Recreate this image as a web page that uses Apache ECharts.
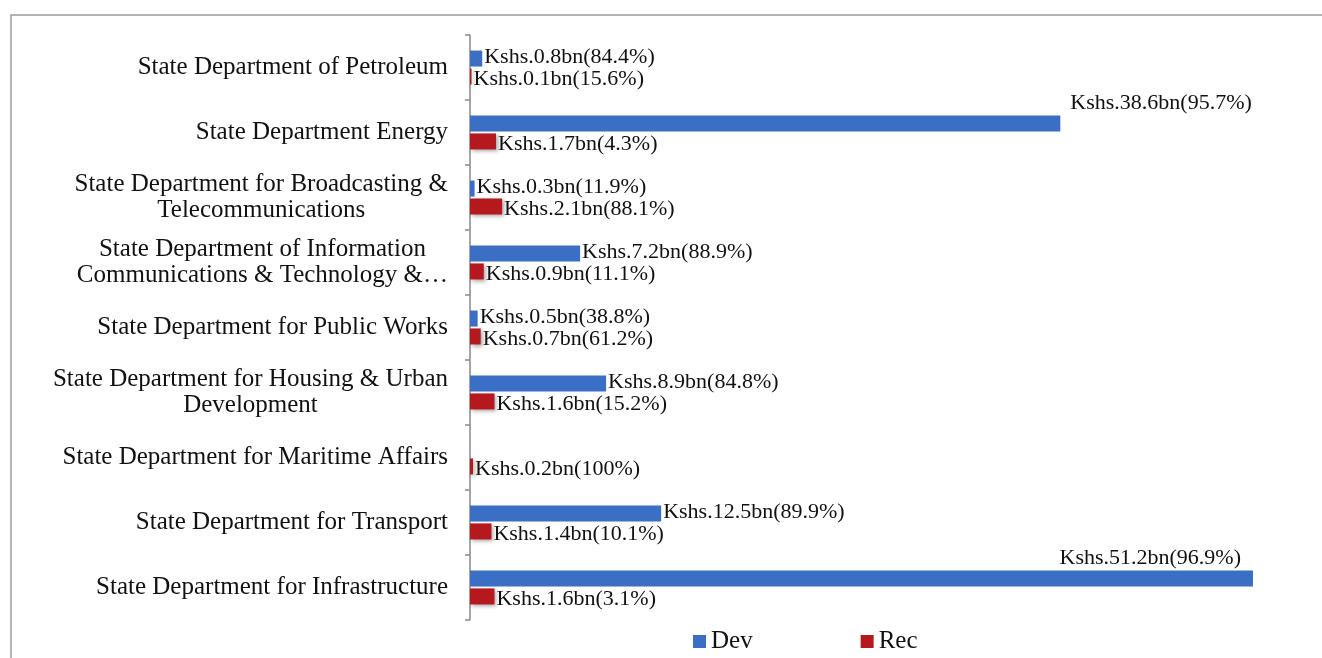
<!DOCTYPE html>
<html><head><meta charset="utf-8">
<script src="https://cdn.jsdelivr.net/npm/echarts@6/dist/echarts.min.js"></script>
<style>html,body{margin:0;padding:0;background:#fff}#c{width:1322px;height:658px}</style>
</head><body><div id="c"></div>
<script>
// Categories listed bottom to top (category axis starts at the bottom)
const categories = [
  'State Department for Infrastructure',
  'State Department for Transport',
  'State Department for Maritime Affairs',
  'State Department for Housing & Urban\nDevelopment',
  'State Department for Public Works',
  'State Department of Information\nCommunications & Technology &…',
  'State Department for Broadcasting &\nTelecommunications',
  'State Department Energy',
  'State Department of Petroleum'
];
const devValues = [51.2, 12.5, null, 8.9, 0.5, 7.2, 0.3, 38.6, 0.8];
const devShares = ['96.9%', '89.9%', '', '84.8%', '38.8%', '88.9%', '11.9%', '95.7%', '84.4%'];
const recValues = [1.6, 1.4, 0.2, 1.6, 0.7, 0.9, 2.1, 1.7, 0.1];
const recShares = ['3.1%', '10.1%', '100%', '15.2%', '61.2%', '11.1%', '88.1%', '4.3%', '15.6%'];
const legendNames = ['Dev', 'Rec'];

const SERIF = '"Liberation Serif", "DejaVu Serif", serif';
const BLUE = '#3b6fc6';
const RED = '#b5191e';

const maxDev = Math.max(...devValues.filter(v => v != null));
const devData = devValues.map((v, i) => {
  if (v == null) return v;
  if (v === maxDev) {
    return { value: v, label: { position: ['100%', 0], align: 'right', verticalAlign: 'bottom', offset: [-12, -1] } };
  }
  if (v > maxDev * 0.5) {
    return { value: v, label: { position: ['100%', 0], align: 'left', verticalAlign: 'bottom', offset: [10, -1] } };
  }
  return v;
});

const chart = echarts.init(document.getElementById('c'), null, { renderer: 'canvas' });
chart.setOption({
  animation: false,
  backgroundColor: '#ffffff',
  graphic: [{
    type: 'rect', silent: true, z: -10,
    shape: { x: 11, y: 15, width: 1400, height: 700 },
    style: { fill: 'none', stroke: '#9c9c9c', lineWidth: 1.5 }
  }],
  grid: { left: 470, right: 69, top: 35, bottom: 38, containLabel: false },
  legend: {
    data: legendNames,
    left: 688, top: 624,
    itemWidth: 13, itemHeight: 13, itemGap: 108,
    icon: 'rect',
    textStyle: { fontFamily: SERIF, fontSize: 25, color: '#111' }
  },
  xAxis: { type: 'value', min: 0, max: maxDev, show: false },
  yAxis: {
    type: 'category',
    data: categories,
    axisLine: { show: true, lineStyle: { color: '#8a8a8a', width: 1.5 } },
    axisTick: { show: true, length: 5, lineStyle: { color: '#8a8a8a', width: 1.5 } },
    axisLabel: {
      margin: 22,
      color: '#111',
      fontFamily: SERIF,
      fontSize: 25,
      formatter: v => v.split('\n').map(s => '{l|' + s + '}').join('\n'),
      rich: { l: { align: 'center', fontFamily: SERIF, fontSize: 25, lineHeight: 26, color: '#111' } }
    },
    splitLine: { show: false }
  },
  series: [
    {
      name: 'Dev', type: 'bar', data: devData,
      barWidth: 16, barGap: '12%',
      itemStyle: { color: BLUE },
      label: {
        show: true, position: 'right', distance: 2, offset: [0, -1],
        fontFamily: SERIF, fontSize: 22, color: '#111',
        formatter: p => 'Kshs.' + p.value.toFixed(1) + 'bn(' + devShares[p.dataIndex] + ')'
      }
    },
    {
      name: 'Rec', type: 'bar', data: recValues,
      barWidth: 16, barGap: '12%',
      itemStyle: { color: RED, shadowColor: 'rgba(0,0,0,0.35)', shadowBlur: 4, shadowOffsetX: 2, shadowOffsetY: 2 },
      label: {
        show: true, position: 'right', distance: 2, offset: [0, 3],
        fontFamily: SERIF, fontSize: 22, color: '#111',
        formatter: p => 'Kshs.' + p.value.toFixed(1) + 'bn(' + recShares[p.dataIndex] + ')'
      }
    }
  ]
});
</script></body></html>
